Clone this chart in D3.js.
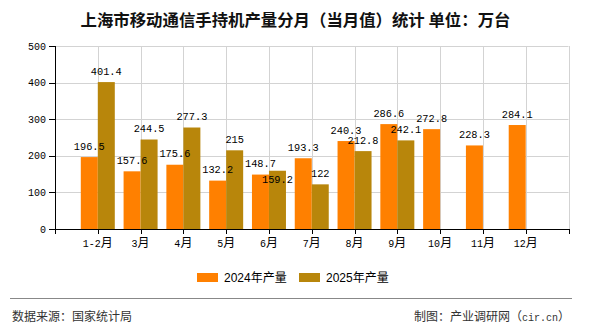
<!DOCTYPE html>
<html>
<head>
<meta charset="utf-8">
<script src="https://cdn.jsdelivr.net/npm/d3@7"></script>
<style>
  html, body { margin: 0; padding: 0; background: #fff; }
  svg { display: block; }
</style>
</head>
<body>
<svg id="chart" width="590" height="330"></svg>
<script>
const categories = ["1-2月", "3月", "4月", "5月", "6月", "7月", "8月", "9月", "10月", "11月", "12月"];
const values2024 = [196.5, 157.6, 175.6, 132.2, 148.7, 193.3, 240.3, 286.6, 272.8, 228.3, 284.1];
const values2025 = [401.4, 244.5, 277.3, 215, 159.2, 122, 212.8, 242.1, null, null, null];
const seriesNames = ["2024年产量", "2025年产量"];
const yTicks = [0, 100, 200, 300, 400, 500];
const titleText = "上海市移动通信手持机产量分月（当月值）统计 单位：万台";
const sourceText = "数据来源：国家统计局";
const creditParts = ["制图：产业调研网（", "cir.cn", "）"];

(function () {
const colors = ["#ff8000", "#b8860b"];
const monoFont = "'Liberation Mono', 'DejaVu Sans Mono', monospace";
const cjkFont = "'Noto Sans CJK SC', sans-serif";

const svg = d3.select("#chart");
const pLeft = 55, pRight = 568.5, pTop = 46, pBottom = 229;

const x = d3.scalePoint().domain(categories).range([pLeft, pRight]).padding(1);
const y = d3.scaleLinear().domain([0, 500]).range([pBottom, pTop]);
const barW = 17;

// Title
svg.append("text")
  .attr("x", 295.5).attr("y", 25.5)
  .attr("text-anchor", "middle")
  .attr("font-family", cjkFont)
  .attr("font-size", 16.4)
  .attr("font-weight", "bold")
  .attr("fill", "#111")
  .text(titleText);

// Grid
const grid = svg.append("g").attr("stroke", "#d3d3d3").attr("stroke-width", 1);
yTicks.filter(d => d > 0).forEach(t => {
  grid.append("line").attr("x1", pLeft).attr("x2", pRight)
    .attr("y1", Math.round(y(t)) + 0.5).attr("y2", Math.round(y(t)) + 0.5);
});
const vPos = categories.map(c => x(c)).concat([pRight]);
vPos.forEach(px => {
  grid.append("line").attr("x1", Math.round(px) + 0.5).attr("x2", Math.round(px) + 0.5)
    .attr("y1", pTop).attr("y2", pBottom);
});

// Bars
const series = [values2024, values2025];
series.forEach((vals, si) => {
  svg.append("g").selectAll("rect")
    .data(categories.map((c, i) => ({c, v: vals[i]})).filter(d => d.v != null))
    .join("rect")
    .attr("x", d => x(d.c) - barW + si * barW)
    .attr("width", barW)
    .attr("y", d => y(d.v))
    .attr("height", d => pBottom - y(d.v))
    .attr("fill", colors[si]);
});

// Axes
const axisG = svg.append("g").attr("stroke", "#000").attr("stroke-width", 1);
axisG.append("line").attr("x1", pLeft + 0.5).attr("x2", pLeft + 0.5).attr("y1", pTop).attr("y2", pBottom + 0.5);
axisG.append("line").attr("x1", pLeft).attr("x2", pRight + 0.5).attr("y1", pBottom + 0.5).attr("y2", pBottom + 0.5);
yTicks.forEach(t => {
  axisG.append("line").attr("x1", pLeft - 6).attr("x2", pLeft)
    .attr("y1", Math.round(y(t)) + 0.5).attr("y2", Math.round(y(t)) + 0.5);
});
[pLeft].concat(vPos).forEach(px => {
  axisG.append("line").attr("x1", Math.round(px) + 0.5).attr("x2", Math.round(px) + 0.5)
    .attr("y1", pBottom).attr("y2", pBottom + 5);
});

// Y tick labels
svg.append("g").selectAll("text").data(yTicks).join("text")
  .attr("x", 46).attr("y", d => y(d) + 3.5)
  .attr("text-anchor", "end")
  .attr("font-family", monoFont).attr("font-size", 10)
  .attr("fill", "#000")
  .text(d => d);

// X tick labels
const xl = svg.append("g").selectAll("text").data(categories).join("text")
  .attr("x", d => x(d)).attr("y", 247)
  .attr("text-anchor", "middle").attr("fill", "#000");
xl.append("tspan").attr("font-family", monoFont).attr("font-size", 10).text(d => d.replace("月", ""));
xl.append("tspan").attr("font-family", cjkFont).attr("font-size", 12).text("月");

// Value labels with simple overlap avoidance
const labelH = 8.5;
categories.forEach((c, i) => {
  const v1 = values2024[i], v2 = values2025[i];
  const cx1 = x(c) - barW / 2, cx2 = x(c) + barW / 2;
  const b1 = y(v1) - 7.5;
  svg.append("text").attr("x", cx1).attr("y", b1)
    .attr("text-anchor", "middle").attr("font-family", monoFont).attr("font-size", 10.3)
    .attr("fill", "#000").text(v1);
  if (v2 != null) {
    let b2 = y(v2) - 7.5;
    if (Math.abs(b2 - b1) < labelH) b2 = y(v2) + 12;
    svg.append("text").attr("x", cx2).attr("y", b2)
      .attr("text-anchor", "middle").attr("font-family", monoFont).attr("font-size", 10.3)
      .attr("fill", "#000").text(v2);
  }
});

// Legend
const legendX = [197, 299];
seriesNames.forEach((n, i) => {
  svg.append("rect").attr("x", legendX[i]).attr("y", 273).attr("width", 21).attr("height", 9)
    .attr("fill", colors[i]);
  svg.append("text").attr("x", legendX[i] + 27).attr("y", 282)
    .attr("font-family", "'Liberation Sans', " + cjkFont).attr("font-size", 12)
    .attr("fill", "#000").text(n);
});

// Footer
svg.append("line").attr("x1", 10).attr("x2", 572).attr("y1", 298.5).attr("y2", 298.5)
  .attr("stroke", "#888").attr("stroke-width", 1);
svg.append("text").attr("x", 12).attr("y", 321)
  .attr("font-family", cjkFont).attr("font-size", 12).attr("fill", "#333").text(sourceText);
const credit = svg.append("text").attr("x", 570).attr("y", 321).attr("text-anchor", "end")
  .attr("font-family", cjkFont).attr("font-size", 12).attr("fill", "#333");
credit.append("tspan").text(creditParts[0]);
credit.append("tspan").attr("font-family", monoFont).attr("font-size", 10).text(creditParts[1]);
credit.append("tspan").text(creditParts[2]);
})();
</script>
</body>
</html>
